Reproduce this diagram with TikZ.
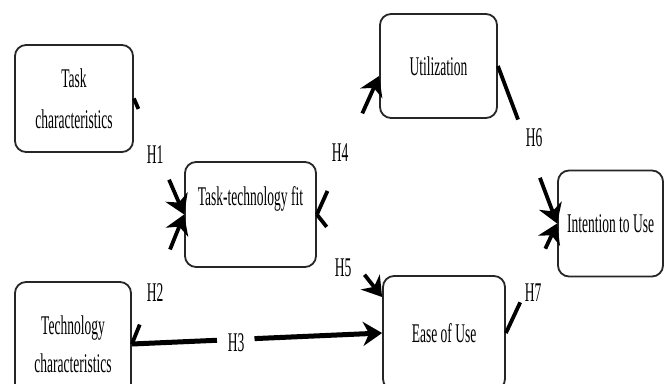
\documentclass[tikz,border=0pt]{standalone}
\usepackage{fontspec}
\setmainfont{Liberation Serif}[FakeStretch=0.5]
\usetikzlibrary{arrows.meta,calc}
\begin{document}
\begin{tikzpicture}[x=1pt,y=-1pt,
  box/.style={draw=black!85, line width=1.8pt, rounded corners=11pt, fill=white, inner sep=0pt, align=center, font=\fontsize{27}{31}\selectfont},
  conn/.style={line width=3.8pt, black},
  head/.style={conn, -{Stealth[length=19pt,width=24pt,inset=6pt]}},
  lab/.style={font=\fontsize{27}{31}\selectfont, inner sep=0pt}]
\useasboundingbox (0,0) rectangle (668,383);
\clip (0,0) rectangle (668,383);
% boxes
\node[box, minimum width=118pt, minimum height=107pt] (tc) at (74,98.5) {Task\\[10pt]characteristics};
\node[box, minimum width=131pt, minimum height=105pt, text depth=38pt] (ttf) at (250.5,214.5) {Task-technology fit};
\node[box, minimum width=117pt, minimum height=104pt] (util) at (438.5,66) {Utilization};
\node[box, minimum width=105pt, minimum height=106pt] (int) at (610.5,223.5) {Intention to Use};
\node[box, minimum width=122pt, minimum height=114pt] (eou) at (444,333) {Ease of Use};
\node[box, minimum width=116pt, minimum height=124pt] (tech) at (73,344) {Technology\\[7pt]characteristics};
% labels
\node[lab] (h1) at (155,155) {H1};
\node[lab] (h2) at (155,293) {H2};
\node[lab] (h3) at (236,343) {H3};
\node[lab] (h4) at (340,153) {H4};
\node[lab] (h5) at (343,268) {H5};
\node[lab] (h6) at (534,138) {H6};
\node[lab] (h7) at (533,293) {H7};
% H1
\draw[conn] (tc.east) -- ($(tc.east)!0.09!(ttf.west)$);
\draw[head] ($(tc.east)!0.70!(ttf.west)$) -- (ttf.west);
% H2
\draw[conn] (tech.east) -- ($(tech.east)!0.15!(ttf.west)$);
\draw[head] ($(tech.east)!0.73!(ttf.west)$) -- (ttf.west);
% H3
\draw[conn, line width=5pt] (tech.east) -- ($(tech.east)!0.34!(eou.west)$);
\draw[head, line width=5pt] ($(tech.east)!0.49!(eou.west)$) -- (eou.west);
% H4
\draw[conn] (ttf.east) -- ($(ttf.east)!0.17!([yshift=-10pt]util.west)$);
\draw[head] ($(ttf.east)!0.73!([yshift=-10pt]util.west)$) -- ([yshift=-10pt]util.west);
% H5
\draw[conn] (ttf.east) -- ($(ttf.east)!0.15!([yshift=36pt]eou.west)$);
\draw[head] ($(ttf.east)!0.73!([yshift=36pt]eou.west)$) -- ([yshift=36pt]eou.west);
% H6
\draw[conn] (util.east) -- ($(util.east)!0.34!(int.west)$);
\draw[head] ($(util.east)!0.71!(int.west)$) -- (int.west);
% H7
\draw[conn] (eou.east) -- ($(eou.east)!0.28!(int.west)$);
\draw[head] ($(eou.east)!0.77!(int.west)$) -- (int.west);
\end{tikzpicture}
\end{document}
